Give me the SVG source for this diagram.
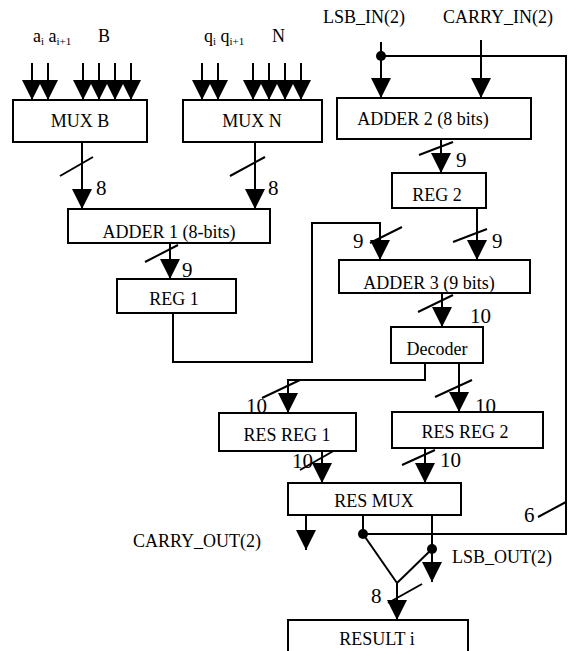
<svg xmlns="http://www.w3.org/2000/svg" width="568" height="651" viewBox="0 0 568 651">
<defs>
<marker id="ah" markerUnits="userSpaceOnUse" viewBox="0 0 20 20" refX="20" refY="10" markerWidth="20" markerHeight="20" orient="auto">
<path d="M0,0 L20,10 L0,20 Z" fill="#000"/>
</marker>
</defs>
<style>
.box{fill:#fff;stroke:#000;stroke-width:2}
.lbl{font-family:"Liberation Serif","Times New Roman",serif;font-size:18px;fill:#000;text-anchor:middle}
.txt{font-family:"Liberation Serif","Times New Roman",serif;font-size:18px;fill:#000}
.num{font-family:"Liberation Serif","Times New Roman",serif;font-size:21px;fill:#000}
.w{fill:none;stroke:#000;stroke-width:2}
.a{fill:none;stroke:#000;stroke-width:2;marker-end:url(#ah)}
.s{stroke:#000;stroke-width:2}
.dot{fill:#000}
</style>
<rect width="568" height="651" fill="#fff"/>

<g id="connectors">
<line class="a" x1="32" y1="63" x2="32" y2="100"/>
<line class="a" x1="48" y1="63" x2="48" y2="100"/>
<line class="a" x1="83" y1="63" x2="83" y2="100"/>
<line class="a" x1="99" y1="63" x2="99" y2="100"/>
<line class="a" x1="115" y1="63" x2="115" y2="100"/>
<line class="a" x1="131" y1="63" x2="131" y2="100"/>
<line class="a" x1="202" y1="63" x2="202" y2="100"/>
<line class="a" x1="218" y1="63" x2="218" y2="100"/>
<line class="a" x1="253" y1="63" x2="253" y2="100"/>
<line class="a" x1="269" y1="63" x2="269" y2="100"/>
<line class="a" x1="285" y1="63" x2="285" y2="100"/>
<line class="a" x1="301" y1="63" x2="301" y2="100"/>
<line class="a" x1="381" y1="42" x2="381" y2="98"/>
<line class="a" x1="481" y1="40" x2="481" y2="98"/>
<polyline class="w" points="381,56 566,56 566,534 363,534"/>
<circle class="dot" cx="381" cy="56" r="5"/>
<line class="a" x1="82" y1="142" x2="82" y2="209"/>
<line class="s" x1="60" y1="176" x2="93" y2="157"/>
<text class="num" x="96" y="195">8</text>
<line class="a" x1="255" y1="142" x2="255" y2="209"/>
<line class="s" x1="230" y1="176" x2="265" y2="157"/>
<text class="num" x="268" y="195">8</text>
<line class="a" x1="441" y1="139" x2="441" y2="173"/>
<line class="s" x1="419" y1="155" x2="453" y2="142"/>
<text class="num" x="456" y="167">9</text>
<line class="a" x1="170" y1="243" x2="170" y2="279"/>
<line class="s" x1="145" y1="262" x2="178" y2="245"/>
<text class="num" x="182" y="277">9</text>
<polyline class="a" points="173,313 173,362 312,362 312,223 380,223 380,260"/>
<line class="s" x1="370" y1="243" x2="402" y2="227"/>
<text class="num" x="353" y="248">9</text>
<line class="a" x1="477" y1="208" x2="477" y2="260"/>
<line class="s" x1="453" y1="242" x2="487" y2="229"/>
<text class="num" x="492" y="248">9</text>
<line class="a" x1="442" y1="293" x2="442" y2="327"/>
<line class="s" x1="418" y1="312" x2="453" y2="295"/>
<text class="num" x="470" y="323">10</text>
<polyline class="a" points="425,363 425,380 288,380 288,413"/>
<line class="s" x1="262" y1="398" x2="300" y2="380"/>
<text class="num" x="246" y="413">10</text>
<line class="a" x1="459" y1="363" x2="459" y2="412"/>
<line class="s" x1="435" y1="397" x2="472" y2="380"/>
<text class="num" x="475" y="413">10</text>
<line class="a" x1="322" y1="451" x2="322" y2="483"/>
<line class="s" x1="300" y1="470" x2="337" y2="449"/>
<text class="num" x="292" y="468">10</text>
<line class="a" x1="425" y1="448" x2="425" y2="483"/>
<line class="s" x1="402" y1="465" x2="435" y2="450"/>
<text class="num" x="440" y="467">10</text>
<line class="a" x1="306" y1="515" x2="306" y2="550"/>
<line class="w" x1="363" y1="515" x2="363" y2="534"/>
<circle class="dot" cx="363" cy="534" r="5"/>
<line class="w" x1="363" y1="534" x2="397" y2="583"/>
<line class="a" x1="432" y1="515" x2="432" y2="582"/>
<circle class="dot" cx="432" cy="549" r="5"/>
<line class="w" x1="432" y1="549" x2="397" y2="583"/>
<line class="a" x1="397" y1="583" x2="397" y2="620"/>
<line class="s" x1="388" y1="603" x2="422" y2="584"/>
<text class="num" x="371" y="603">8</text>
<line class="s" x1="538" y1="517" x2="566" y2="502"/>
<text class="num" x="524" y="522">6</text>
<text class="txt" x="33" y="42">a<tspan font-size="11" dy="3">i</tspan><tspan dy="-3"> a</tspan><tspan font-size="11" dy="3">i+1</tspan></text>
<text class="txt" x="98" y="42">B</text>
<text class="txt" x="204" y="42">q<tspan font-size="11" dy="3">i</tspan><tspan dy="-3"> q</tspan><tspan font-size="11" dy="3">i+1</tspan></text>
<text class="txt" x="272" y="42">N</text>
<text class="txt" x="323" y="23">LSB_IN(2)</text>
<text class="txt" x="443" y="23">CARRY_IN(2)</text>
<text class="txt" x="133" y="547">CARRY_OUT(2)</text>
<text class="txt" x="452" y="563">LSB_OUT(2)</text>
</g>

<g id="mux-b"><rect class="box" x="13" y="100" width="134" height="42"/><text class="lbl" x="80" y="127">MUX B</text></g>
<g id="mux-n"><rect class="box" x="183" y="100" width="139" height="42"/><text class="lbl" x="252" y="127">MUX N</text></g>
<g id="adder-2"><rect class="box" x="337" y="98" width="194" height="41"/><text class="lbl" x="423" y="125">ADDER 2 (8 bits)</text></g>
<g id="adder-1"><rect class="box" x="68" y="209" width="202" height="34"/><text class="lbl" x="169" y="238">ADDER 1 (8-bits)</text></g>
<g id="reg-2"><rect class="box" x="392" y="173" width="94" height="35"/><text class="lbl" x="437" y="201">REG 2</text></g>
<g id="reg-1"><rect class="box" x="117" y="279" width="119" height="34"/><text class="lbl" x="174" y="305">REG 1</text></g>
<g id="adder-3"><rect class="box" x="339" y="260" width="191" height="33"/><text class="lbl" x="429" y="289">ADDER 3 (9 bits)</text></g>
<g id="decoder"><rect class="box" x="391" y="327" width="92" height="36"/><text class="lbl" x="437" y="355">Decoder</text></g>
<g id="res-reg-1"><rect class="box" x="219" y="413" width="137" height="38"/><text class="lbl" x="287" y="441">RES REG 1</text></g>
<g id="res-reg-2"><rect class="box" x="392" y="412" width="151" height="36"/><text class="lbl" x="465" y="438">RES REG 2</text></g>
<g id="res-mux"><rect class="box" x="288" y="483" width="173" height="32"/><text class="lbl" x="374" y="507">RES MUX</text></g>
<g id="result-i"><rect class="box" x="288" y="620" width="180" height="45"/><text class="lbl" x="377" y="645">RESULT i</text></g>
</svg>
